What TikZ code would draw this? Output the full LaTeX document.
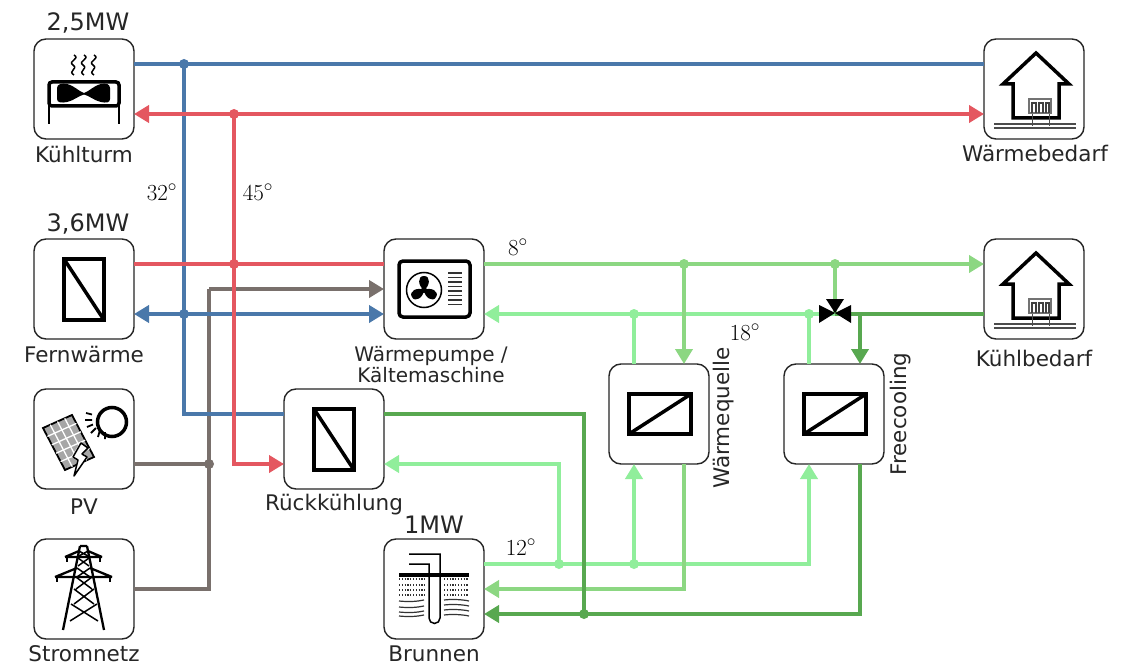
\documentclass[tikz,border=0pt]{standalone}
\usepackage{fontspec}
\newfontfamily\dv{DejaVu Sans}
\usetikzlibrary{arrows.meta,calc}
\definecolor{cblue}{RGB}{74,120,170}
\definecolor{cred}{RGB}{228,87,96}
\definecolor{cbrown}{RGB}{121,112,108}
\definecolor{cmed}{RGB}{140,215,130}
\definecolor{clight}{RGB}{144,238,155}
\definecolor{cdark}{RGB}{88,168,80}
\tikzset{
 unit/.style={draw=black!85,line width=1.4pt,rounded corners=12pt,minimum size=100pt,inner sep=0,outer sep=0,fill=white},
 lab/.style={font=\dv\fontsize{21.5}{21}\selectfont,text=black!85,inner sep=0,align=center},
 labsm/.style={font=\dv\fontsize{20}{21}\selectfont,text=black!85,inner sep=0,align=center},
 mwlab/.style={font=\dv\fontsize{24}{26}\selectfont,text=black!85,inner sep=0},
 deg/.style={font=\fontsize{23}{25}\selectfont,inner sep=0},
 pipe/.style={line width=4pt},
 ar/.style={-{Triangle[length=15pt,width=17pt]}},
 arr/.style={{Triangle[length=15pt,width=17pt]}-{Triangle[length=15pt,width=17pt]}},
 jdot/.style={circle,minimum size=10pt,inner sep=0,outer sep=0},
 icon/.style={line width=3.8pt,draw=black,line join=miter}
}
\newcommand{\houseicon}[1]{%
 \begin{scope}[shift={(#1)}]
 \draw[line width=3.5pt,line join=miter] (52,14)--(85,45)--(75,45)--(75,79)--(29,79)--(29,45)--(19,45)--cycle;
 \draw[line width=1.2pt,black!70] (10,85)--(92,85) (10,89)--(92,89);
 \draw[line width=1pt,black!70] (48,74)--(48,87) (65,74)--(65,87);
 \draw[line width=1.2pt,black!55,fill=white] (45,60) rectangle (67,74);
 \draw[line width=1.2pt,black!75] (48,74)--(48,64)--(52,64)--(52,74) (55,74)--(55,64)--(59,64)--(59,74) (62,74)--(62,64)--(65,64)--(65,74);
 \end{scope}}
\begin{document}
\begin{tikzpicture}[x=1pt,y=-1pt]
\useasboundingbox (0,0) rectangle (1130,666);
\fill[white] (0,0) rectangle (1130,666);
% units
\node[unit] (kt) at (84,89) {};
\node[unit] (fw) at (84,289) {};
\node[unit] (pv) at (84,439) {};
\node[unit] (sn) at (84,589) {};
\node[unit] (wp) at (434,289) {};
\node[unit] (rk) at (334,439) {};
\node[unit] (br) at (434,589) {};
\node[unit] (wq) at (659,414) {};
\node[unit] (fc) at (834,414) {};
\node[unit] (wb) at (1034,89) {};
\node[unit] (kb) at (1034,289) {};
% junctions
\coordinate (hb) at (184,64);
\coordinate (hr) at (234,114);
\coordinate (fr) at (234,264);
\coordinate (fb) at (184,314);
\coordinate (bb) at (209,289);
\coordinate (bp) at (209,464);
\coordinate (bs) at (209,589);
\coordinate (rb) at (184,414);
\coordinate (rr) at (234,464);
\coordinate (g1) at (684,264);
\coordinate (g2) at (835,264);
\coordinate (v) at (835,313);
\coordinate (l1) at (634,314);
\coordinate (l2) at (809,314);
\coordinate (d1) at (860,314);
\coordinate (d2) at (584,414);
\coordinate (d3) at (584,614);
\coordinate (d4) at (860,614);
\coordinate (m1) at (684,589);
\coordinate (s1) at (559,564);
\coordinate (s2) at (634,564);
\coordinate (s3) at (809,564);
\coordinate (s4) at (559,464);
% brown
\draw[pipe,cbrown] (pv.east |- bp) -- (bp);
\draw[pipe,cbrown] (sn.east |- bs) -- (bs) -- (bb);
\draw[pipe,cbrown,ar] (bb) -- (wp.west |- bb);
% blue
\draw[pipe,cblue] (kt.east |- hb) -- (wb.west |- hb);
\draw[pipe,cblue] (hb) -- (rb) -- (rk.west |- rb);
\draw[pipe,cblue,arr] (fw.east |- fb) -- (wp.west |- fb);
% red
\draw[pipe,cred,arr] (kt.east |- hr) -- (wb.west |- hr);
\draw[pipe,cred,ar] (hr) -- (rr) -- (rk.west |- rr);
\draw[pipe,cred] (fw.east |- fr) -- (wp.west |- fr);
% light green
\draw[pipe,clight,ar] (br.east |- s1) -- (s3) -- (s3 |- fc.south);
\draw[pipe,clight,ar] (s2) -- (s2 |- wq.south);
\draw[pipe,clight,ar] (s1) -- (s4) -- (rk.east |- s4);
\draw[pipe,clight,ar] (v |- l1) -- (wp.east |- l1);
\draw[pipe,clight] (l1) -- (l1 |- wq.north);
\draw[pipe,clight] (l2) -- (l2 |- fc.north);
% medium green
\draw[pipe,cmed,ar] (wp.east |- g1) -- (kb.west |- g1);
\draw[pipe,cmed,ar] (g1) -- (g1 |- wq.north);
\draw[pipe,cmed] (g2) -- (v);
\draw[pipe,cmed,ar] (g1 |- wq.south) -- (m1) -- (br.east |- m1);
% dark green
\draw[pipe,cdark] (kb.west |- d1) -- (v |- d1);
\draw[pipe,cdark,ar] (d1) -- (d1 |- fc.north);
\draw[pipe,cdark] (rk.east |- d2) -- (d2) -- (d3);
\draw[pipe,cdark,ar] (d1 |- fc.south) -- (d4) -- (br.east |- d4);
% dots
\foreach \c/\k in {hb/cblue,fb/cblue,hr/cred,fr/cred,bp/cbrown,g1/cmed,g2/cmed,l1/clight,l2/clight,s1/clight,s2/clight,d3/cdark}
  \node[jdot,fill=\k] at (\c) {};
% valve
\fill (v) -- (826,299) -- (844,299) -- cycle;
\fill (v) -- (819,305) -- (819,323) -- cycle;
\fill (v) -- (851,305) -- (851,323) -- cycle;
% Kuehlturm icon
\begin{scope}[shift={(kt.north west)}]
 \draw[line width=3.5pt,rounded corners=3pt] (15,43) rectangle (85,67);
 \draw[line width=1.5pt] (15,67)--(15,85) (85,67)--(85,85);
 \fill (23,49) .. controls (23,45) and (28,44) .. (33,45) .. controls (41,47) and (44,52) .. (50,54) .. controls (56,52) and (59,47) .. (67,45) .. controls (72,44) and (76,45) .. (76,49)
   -- (76,60) .. controls (76,64) and (72,64) .. (67,63) .. controls (59,61) and (56,57) .. (50,55.5) .. controls (44,57) and (41,61) .. (33,63) .. controls (28,64) and (23,64) .. (23,60) -- cycle;
 \foreach \q in {-10,0,10}
  \draw[line width=1.5pt,shift={(\q,0)}] (50,16) .. controls (57,20) and (43,22) .. (49,26) .. controls (55,30) and (43,32) .. (50,36);
\end{scope}
% exchangers
\begin{scope}[shift={(fw.north west)}]
 \draw[icon] (30,20) rectangle (70,81); \draw[line width=3.5pt] (30,20)--(70,81);
\end{scope}
\begin{scope}[shift={(rk.north west)}]
 \draw[icon] (30,20) rectangle (70,81); \draw[line width=3.5pt] (30,20)--(70,81);
\end{scope}
\begin{scope}[shift={(wq.north west)}]
 \draw[icon] (20,30) rectangle (82,70); \draw[line width=3.5pt] (20,70)--(82,30);
\end{scope}
\begin{scope}[shift={(fc.north west)}]
 \draw[icon] (20,30) rectangle (82,70); \draw[line width=3.5pt] (20,70)--(82,30);
\end{scope}
% heat pump
\begin{scope}[shift={(wp.north west)}]
 \draw[line width=3.5pt,rounded corners=4pt] (15,22) rectangle (86,78);
 \draw[line width=1.5pt] (40,51) circle (17.5);
 \foreach \a in {90,210,330}
  \fill[rotate around={\a:(40,51)}] (40,51) .. controls (44,45) and (54,44) .. (54,51) .. controls (54,58) and (44,57) .. (40,51);
 \fill (40,51) circle (3);
 \foreach \yy in {34,38.5,43,47.6,52,56.5,61,65.5}
  \draw[line width=1.3pt,black!80] (64,\yy)--(78,\yy);
\end{scope}
% PV
\begin{scope}[shift={(pv.north west)}]
 \draw[line width=1.8pt,fill=black!35] (9,39)--(38,26)--(60,68)--(31,81)--cycle;
 \foreach \t in {0.25,0.5,0.75}{
  \draw[white,line width=1.3pt] ($(9,39)!\t!(38,26)$)--($(31,81)!\t!(60,68)$);
 }
 \foreach \t in {0.2,0.4,0.6,0.8}{
  \draw[white,line width=1.3pt] ($(9,39)!\t!(31,81)$)--($(38,26)!\t!(60,68)$);
 }
 \draw[line width=3.5pt] (78,33) circle (14.5);
 \draw[line width=1.8pt] (52,24)--(58,25.5) (51,31)--(58,31) (53,38)--(59,35.5) (57,44)--(62,39) (64,48)--(66,41) (71,50)--(71,43);
 \fill[white] (46,54)--(54,60)--(48,66)--(52,69)--(40,88)--(43,71)--(37,68)--cycle;
 \draw[line width=1.5pt,line join=round] (47,54)--(39,68)--(44,71)--(40,87)--(53,68)--(48,65)--(54,59)--cycle;
\end{scope}
% pylon
\begin{scope}[shift={(sn.north west)}]
 \draw[line width=2.3pt,line join=round]
  (46,7)--(29,91) (53,7)--(70,91) (46,7)--(53,7);
 \draw[line width=1.5pt] (45,12)--(54,17) (54,12)--(45,17) (44,19)--(55,27) (55,19)--(44,27) (43,29)--(56,38) (56,29)--(43,38)
   (42,38)--(58,50) (58,38)--(42,50) (40,50)--(60,65) (60,50)--(40,65) (37,65)--(64,82) (63,65)--(36,82);
 \draw[line width=2.3pt] (31,18)--(68,18) (31,18)--(45,12) (68,18)--(54,12);
 \draw[line width=2.3pt] (21,38)--(78,38) (21,38)--(43,29) (78,38)--(56,29);
 \foreach \xx in {33,66}{\draw[line width=2.3pt] (\xx,18)--(\xx,23);}
 \foreach \xx in {23,76}{\draw[line width=2.3pt] (\xx,38)--(\xx,43);}
\end{scope}
% Brunnen
\begin{scope}[shift={(br.north west)}]
 \foreach \yy in {40,46,51,56}{
  \draw[line width=1.2pt,dash pattern=on 1.2pt off 1.6pt,black!80] (15,\yy)--(41,\yy);
  \draw[line width=1.2pt,dash pattern=on 1.2pt off 1.6pt,black!80] (60,\yy)--(85,\yy);
 }
 \foreach \yy in {62,68,73,77}{
  \draw[line width=1.2pt,black!80] (15,\yy) .. controls (25,\yy+1) and (33,\yy+0.5) .. (40,\yy-1);
 }
 \foreach \yy in {61,66,71,76}{
  \draw[line width=1.2pt,black!80] (60,\yy) .. controls (68,\yy-1) and (78,\yy-0.5) .. (85,\yy+1);
 }
 \draw[line width=3.5pt] (15,36)--(85,36);
 \draw[line width=1.5pt] (25,15)--(56,15)--(56,79) arc[start angle=0,end angle=180,radius=5.5] -- (45,25)--(25,25);
\end{scope}
\houseicon{wb.north west}
\houseicon{kb.north west}
% labels
\node[mwlab] (t1) at (88,23) {2,5MW};
\node[mwlab] (t2) at (88,224) {3,6MW};
\node[mwlab] (t3) at (434,525) {1MW};
\node[lab] (l_kt) at (84,154) {Kühlturm};
\node[lab] (l_fw) at (84,355) {Fernwärme};
\node[lab] (l_pv) at (84,507) {PV};
\node[lab] (l_sn) at (84,654) {Stromnetz};
\node[labsm] (l_wp) at (431,365) {Wärmepumpe /\\Kältemaschine};
\node[lab] (l_rk) at (334,505) {Rückkühlung};
\node[lab] (l_br) at (434,654) {Brunnen};
\node[lab,rotate=90] (l_wq) at (724,418) {Wärmequelle};
\node[lab,rotate=90] (l_fc) at (901,414) {Freecooling};
\node[lab] (l_wb) at (1035,153) {Wärmebedarf};
\node[lab] (l_kb) at (1034,358) {Kühlbedarf};
\node[deg] (d_32) at (162,192) {32$^\circ$};
\node[deg] (d_45) at (258,192) {45$^\circ$};
\node[deg] (d_8) at (518,247) {8$^\circ$};
\node[deg] (d_18) at (745,332) {18$^\circ$};
\node[deg] (d_12) at (521,547) {12$^\circ$};
\end{tikzpicture}
\end{document}
